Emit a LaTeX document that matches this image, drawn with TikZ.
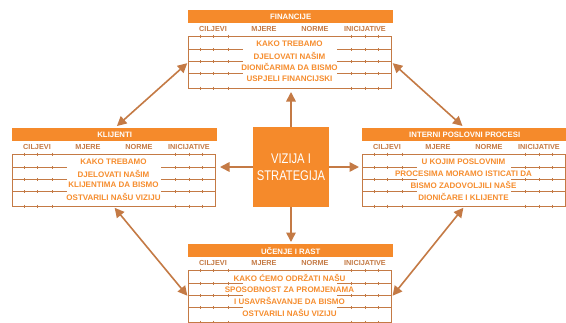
\documentclass[tikz,border=0pt]{standalone}
\usepackage{fontspec}
\setmainfont{Liberation Sans}
\newfontfamily\nar[FakeStretch=0.8]{Liberation Sans}
\usetikzlibrary{arrows.meta}
\definecolor{hdr}{HTML}{F58A2B}
\definecolor{brn}{HTML}{C47A45}
\definecolor{txt}{HTML}{F68D2E}
\tikzset{
 hdrbox/.style={fill=hdr, draw=none, inner sep=0, minimum width=205pt, minimum height=13pt, anchor=north west},
 hdrtext/.style={text=white, font=\bfseries\fontsize{7.8}{8}\selectfont, inner sep=0},
 coltext/.style={text=brn, font=\bfseries\fontsize{7.3}{8}\selectfont, inner sep=0},
 rowtext/.style={text=txt, font=\bfseries\fontsize{8}{9}\selectfont, inner ysep=0pt, inner xsep=5pt, fill=white},
 tbl/.style={draw=brn, line width=1pt, inner sep=0, minimum width=203pt, minimum height=52pt, anchor=north west},
 rowline/.style={draw=brn, line width=0.8pt},
 tick/.style={draw=brn, line width=0.6pt},
 arr/.style={draw=brn, line width=1.6pt, -{Triangle[length=9.5pt,width=9.5pt]}},
 darr/.style={draw=brn, line width=1.6pt, {Triangle[length=9.5pt,width=9.5pt]}-{Triangle[length=9.5pt,width=9.5pt]}},
 centerbox/.style={fill=hdr, draw=none, minimum width=76pt, minimum height=80pt, align=center, text=white, font=\nar\fontsize{14}{17}\selectfont}
}
% #1 name, #2 x, #3 y, #4 header, #5-#8 rows
\newcommand\mkpersp[8]{%
 \node[hdrbox] (#1h) at (#2,#3) {};
 \node[hdrtext] (#1ht) at (#1h.center) {#4};
 \node[coltext] (#1c1) at (#2+25,#3+19) {CILJEVI};
 \node[coltext] (#1c2) at (#2+76,#3+19) {MJERE};
 \node[coltext] (#1c3) at (#2+127,#3+19) {NORME};
 \node[coltext] (#1c4) at (#2+177,#3+19) {INICIJATIVE};
 \node[tbl] (#1t) at (#2,#3+26) {};
 \foreach \o in {13.5,25.5,37.5}{
  \draw[rowline] (#2,#3+26+\o) -- (#2+55,#3+26+\o);
  \draw[rowline] (#2+149,#3+26+\o) -- (#2+203,#3+26+\o);
 }
 \foreach \o in {0,13.5,25.5,37.5,52}{
  \foreach \tx in {12,25,40,163,177,190}{
   \draw[tick] (#2+\tx,#3+26+\o-1.5) -- (#2+\tx,#3+26+\o+1.5);
  }
 }
 \node[rowtext] (#1r1) at (#2+101.5,#3+26+7.5) {#5};
 \node[rowtext] (#1r2) at (#2+101.5,#3+26+19.5) {#6};
 \node[rowtext] (#1r3) at (#2+101.5,#3+26+31) {#7};
 \node[rowtext] (#1r4) at (#2+101.5,#3+26+43) {#8};
}
\begin{document}
\begin{tikzpicture}[x=1pt,y=-1pt]
\useasboundingbox[fill=white] (0,0) rectangle (566,322);
\mkpersp{top}{188}{10}{FINANCIJE}{KAKO TREBAMO}{DJELOVATI NAŠIM}{DIONIČARIMA DA BISMO}{USPJELI FINANCIJSKI}
\mkpersp{left}{12}{128}{KLIJENTI}{KAKO TREBAMO}{DJELOVATI NAŠIM}{KLIJENTIMA DA BISMO}{OSTVARILI NAŠU VIZIJU}
\mkpersp{right}{362}{128}{INTERNI POSLOVNI PROCESI}{U KOJIM POSLOVNIM}{PROCESIMA MORAMO ISTICATI DA}{BISMO ZADOVOLJILI NAŠE}{DIONIČARE I KLIJENTE}
\mkpersp{bottom}{188}{244}{UČENJE I RAST}{KAKO ĆEMO ODRŽATI NAŠU}{SPOSOBNOST ZA PROMJENAMA}{I USAVRŠAVANJE DA BISMO}{OSTVARILI NAŠU VIZIJU}
\node[centerbox] (center) at (291,167) {VIZIJA I\\STRATEGIJA};
\draw[arr, shorten >=3pt] (center.north) -- (center.north |- topt.south);
\draw[arr, shorten >=4pt] (center.west) -- (center.west -| leftt.east);
\draw[arr, shorten >=3pt] (center.east) -- (center.east -| rightt.west);
\draw[arr, shorten >=2pt] (center.south) -- (center.south |- bottomh.north);
\draw[darr, shorten <=3pt, shorten >=1pt] (lefth.north) -- (topt.west);
\draw[darr, shorten <=1pt, shorten >=3pt] (topt.east) -- (righth.north);
\draw[darr, shorten <=1pt, shorten >=1pt] (leftt.south) -- (bottomt.west);
\draw[darr, shorten <=1pt, shorten >=1pt] (rightt.south) -- (bottomt.east);
\end{tikzpicture}
\end{document}
